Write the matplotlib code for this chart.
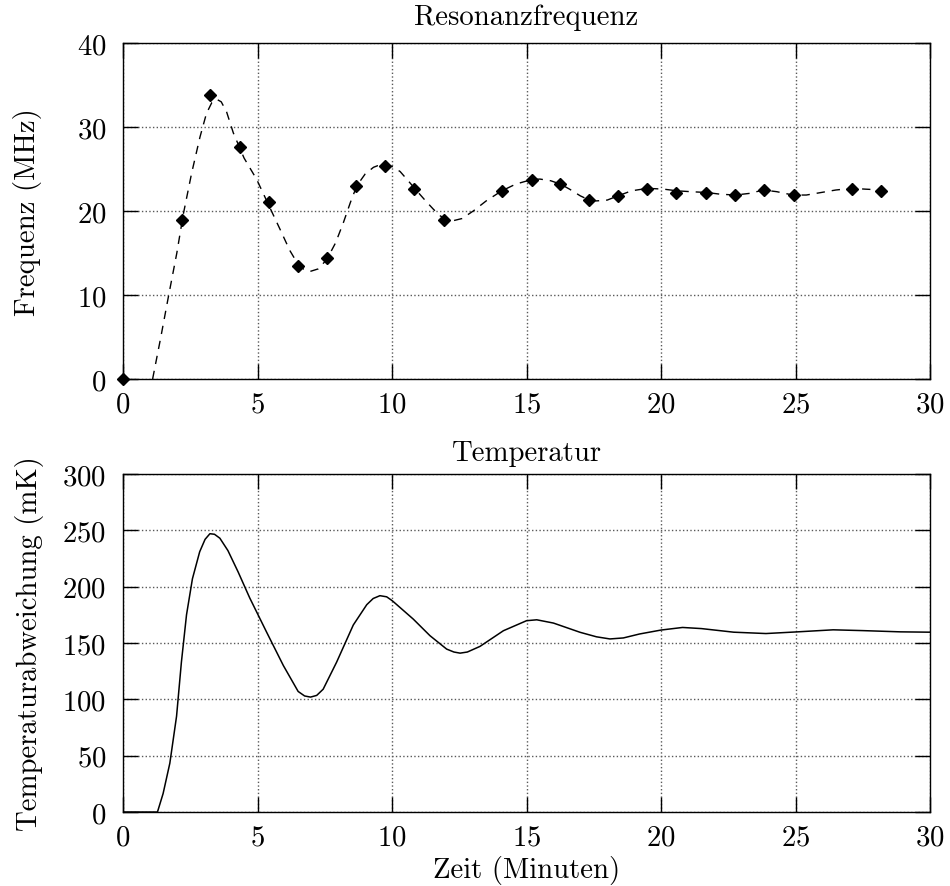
import numpy as np
import matplotlib
matplotlib.use("Agg")
import matplotlib.pyplot as plt

plt.rcParams['font.family'] = ['cmr10', 'DejaVu Serif']
plt.rcParams['mathtext.fontset'] = 'cm'
plt.rcParams['axes.formatter.use_mathtext'] = True

# measured resonance frequency (minutes, MHz)
freq_t = [0.0, 2.18, 3.23, 4.35, 5.44, 6.52, 7.59, 8.66, 9.74, 10.82, 11.93,
          14.08, 15.19, 16.26, 17.34, 18.41, 19.49, 20.57, 21.68, 22.76,
          23.83, 24.94, 27.09, 28.17]
freq_v = [0.0, 18.9, 33.8, 27.65, 21.1, 13.5, 14.4, 23.0, 25.4, 22.6, 18.9,
          22.4, 23.7, 23.2, 21.3, 21.8, 22.6, 22.2, 22.2, 21.9,
          22.5, 21.9, 22.6, 22.4]

# dashed fit curve
fit_t = [1.10, 1.40, 1.69, 2.00, 2.24, 2.55, 2.86, 3.10, 3.30, 3.48, 3.65,
         3.85, 4.10, 4.50, 4.97, 5.40, 5.84, 6.20, 6.46, 6.70, 6.95, 7.25,
         7.57, 7.90, 8.19, 8.45, 8.69, 9.00, 9.31, 9.55, 9.74, 10.00, 10.30,
         10.60, 10.92, 11.25, 11.54, 11.80, 12.05, 12.28, 12.60, 13.02,
         13.50, 14.08, 14.60, 15.20, 15.50, 15.90, 16.26, 16.60, 17.00,
         17.30, 17.60, 18.00, 18.40, 18.90, 19.50, 20.10, 20.60, 21.10,
         21.70, 22.20, 22.76, 23.30, 23.80, 24.30, 24.90, 25.40, 25.95,
         26.50, 27.10, 27.60, 28.20]
fit_v = [0.0, 4.9, 9.85, 15.0, 19.6, 24.5, 28.8, 31.6, 32.9, 33.3, 33.0,
         31.8, 29.3, 26.3, 23.75, 20.8, 17.8, 15.3, 13.9, 13.1, 12.8, 13.1,
         14.2, 16.2, 18.6, 21.0, 23.0, 24.4, 25.2, 25.5, 25.5, 25.3, 24.7,
         23.6, 22.4, 21.2, 20.2, 19.4, 19.0, 18.85, 19.1, 20.0,
         21.2, 22.4, 23.2, 23.75, 23.8, 23.6, 23.2, 22.6, 21.8,
         21.35, 21.2, 21.3, 21.8, 22.4, 22.7, 22.6, 22.4, 22.3,
         22.2, 22.0, 21.9, 22.1, 22.5, 22.3, 21.9, 21.9, 22.2,
         22.5, 22.7, 22.6, 22.5]

# temperature deviation (minutes, mK)
temp_t = [0.0, 1.28, 1.49, 1.74, 1.99, 2.17, 2.36, 2.58, 2.85, 3.05, 3.23,
          3.40, 3.60, 3.90, 4.28, 4.71, 5.33, 5.96, 6.51, 6.75, 6.97, 7.20,
          7.44, 7.94, 8.56, 9.06, 9.30, 9.55, 9.80, 10.01, 10.79, 11.41,
          12.03, 12.30, 12.53, 12.80, 13.27, 14.14, 15.00, 15.38, 16.00,
          16.99, 17.60, 18.10, 18.60, 19.20, 20.00, 20.80, 21.50, 22.70,
          23.90, 25.00, 26.40, 27.50, 28.90, 30.00]
temp_v = [0.0, 0.0, 16.4, 43.3, 85.0, 133.0, 175.0, 207.0, 231.0, 242.0, 247.0,
          246.5, 243.0, 232.0, 213.0, 190.0, 160.0, 130.0, 107.0, 103.0, 102.0,
          103.5, 109.0, 133.0, 166.0, 184.0, 189.5, 192.0, 191.0, 187.5,
          171.2, 156.5, 144.6, 142.0, 141.0, 142.0, 147.0, 160.9, 169.8,
          170.6, 167.7, 159.5, 155.5, 153.6, 154.5, 158.0, 161.5, 163.8,
          162.8, 159.6, 158.4, 159.8, 161.7, 161.0, 159.9, 159.6]

fig = plt.figure(figsize=(9.5, 8.87), dpi=100)
ax1 = fig.add_axes([0.1295, 0.5716, 0.8495, 0.3788])
ax2 = fig.add_axes([0.1295, 0.0834, 0.8495, 0.3811])

fs = 20.7
for ax in (ax1, ax2):
    ax.set_xlim(0, 30)
    ax.set_xticks(np.arange(0, 31, 5))
    ax.grid(True, linestyle=':', color='0.35', linewidth=1.0)
    ax.tick_params(direction='in', top=True, right=True, length=11,
                   width=1.0, labelsize=fs, pad=9)
    ax.tick_params(axis='y', pad=12)
    for s in ax.spines.values():
        s.set_linewidth(1.0)

ax1.plot(fit_t, fit_v, color='black', linewidth=1.0, dashes=(6, 5))
ax1.plot(freq_t, freq_v, linestyle='none', marker='D', markersize=6.5,
         color='black', clip_on=False, zorder=3)
ax1.set_ylim(0, 40)
ax1.set_yticks(np.arange(0, 41, 10))
ax1.set_title('Resonanzfrequenz', fontsize=fs, pad=14)
ax1.set_ylabel('Frequenz (MHz)', fontsize=fs, labelpad=25)

ax2.plot(temp_t, temp_v, color='black', linewidth=1.1)
ax2.set_ylim(0, 300)
ax2.set_yticks(np.arange(0, 301, 50))
ax2.set_title('Temperatur', fontsize=fs, pad=10)
ax2.set_ylabel('Temperaturabweichung (mK)', fontsize=fs, labelpad=13)
ax2.set_xlabel('Zeit (Minuten)', fontsize=fs, labelpad=3)

fig.savefig('out.png', dpi=100)
plt.close(fig)
